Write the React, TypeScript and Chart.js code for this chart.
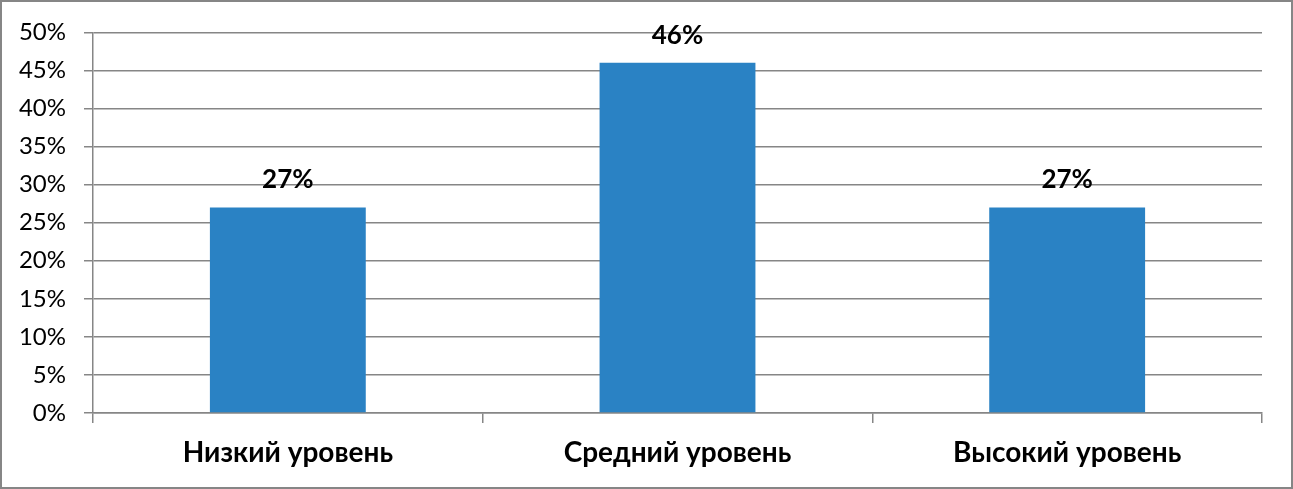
import React, { useEffect, useRef } from "react";
import { Chart, registerables } from "chart.js";

Chart.register(...registerables);

const categories = ["Низкий уровень", "Средний уровень", "Высокий уровень"];
const values = [27, 46, 27];
const yMax = 50;
const yStep = 5;

const W = 1293;
const H = 489;
const GRID = "#868686";
const BAR = "#2a82c4";
const FONT = "Lato";

const frameAndLabels = {
  id: "frameAndLabels",
  beforeDraw(chart: any) {
    const ctx = chart.ctx;
    ctx.save();
    ctx.fillStyle = "#ffffff";
    ctx.fillRect(0, 0, chart.width, chart.height);
    ctx.restore();
  },
  afterDraw(chart: any) {
    const ctx = chart.ctx;
    ctx.save();
    ctx.strokeStyle = GRID;
    ctx.lineWidth = 2;
    ctx.strokeRect(1, 1, chart.width - 2, chart.height - 2);
    const meta = chart.getDatasetMeta(0);
    ctx.fillStyle = "#000000";
    ctx.font = `bold 26px ${FONT}`;
    ctx.textAlign = "center";
    ctx.textBaseline = "alphabetic";
    meta.data.forEach((bar: any, i: number) => {
      const v = chart.data.datasets[0].data[i];
      ctx.fillText(`${v}%`, bar.x, bar.y - 19);
    });
    ctx.restore();
  },
};

export default function App() {
  const ref = useRef<HTMLCanvasElement | null>(null);
  useEffect(() => {
    if (!ref.current) return;
    const chart = new Chart(ref.current, {
      type: "bar",
      data: {
        labels: categories,
        datasets: [
          {
            data: values,
            backgroundColor: BAR,
            borderWidth: 0,
            categoryPercentage: 1,
            barPercentage: 0.4,
          },
        ],
      },
      options: {
        animation: false,
        responsive: false,
        devicePixelRatio: 1,
        layout: { padding: { top: 32, right: 31, left: 0, bottom: 0 } },
        plugins: { legend: { display: false }, tooltip: { enabled: false } },
        scales: {
          x: {
            offset: true,
            grid: {
              offset: true,
              drawOnChartArea: false,
              drawTicks: true,
              tickLength: 10,
              color: GRID,
              lineWidth: 1.5,
            },
            border: { color: GRID, width: 1.5 },
            ticks: {
              color: "#000000",
              padding: 13,
              font: { family: FONT, size: 28, weight: "bold" },
            },
            afterFit(scale: any) {
              scale.height = H - 413;
            },
          },
          y: {
            min: 0,
            max: yMax,
            grid: {
              color: GRID,
              lineWidth: 1.5,
              tickLength: 9,
              drawTicks: true,
            },
            border: { color: GRID, width: 1.5 },
            ticks: {
              stepSize: yStep,
              padding: 18,
              color: "#000000",
              font: { family: FONT, size: 24 },
              callback: (v: any) => `${v}%`,
            },
            afterFit(scale: any) {
              scale.width = 93;
            },
          },
        },
      },
      plugins: [frameAndLabels],
    });
    return () => chart.destroy();
  }, []);
  return (
    <div style={{ position: "absolute", left: 0, top: 0, width: W, height: H }}>
      <canvas ref={ref} width={W} height={H} style={{ display: "block", width: W, height: H }} />
    </div>
  );
}
